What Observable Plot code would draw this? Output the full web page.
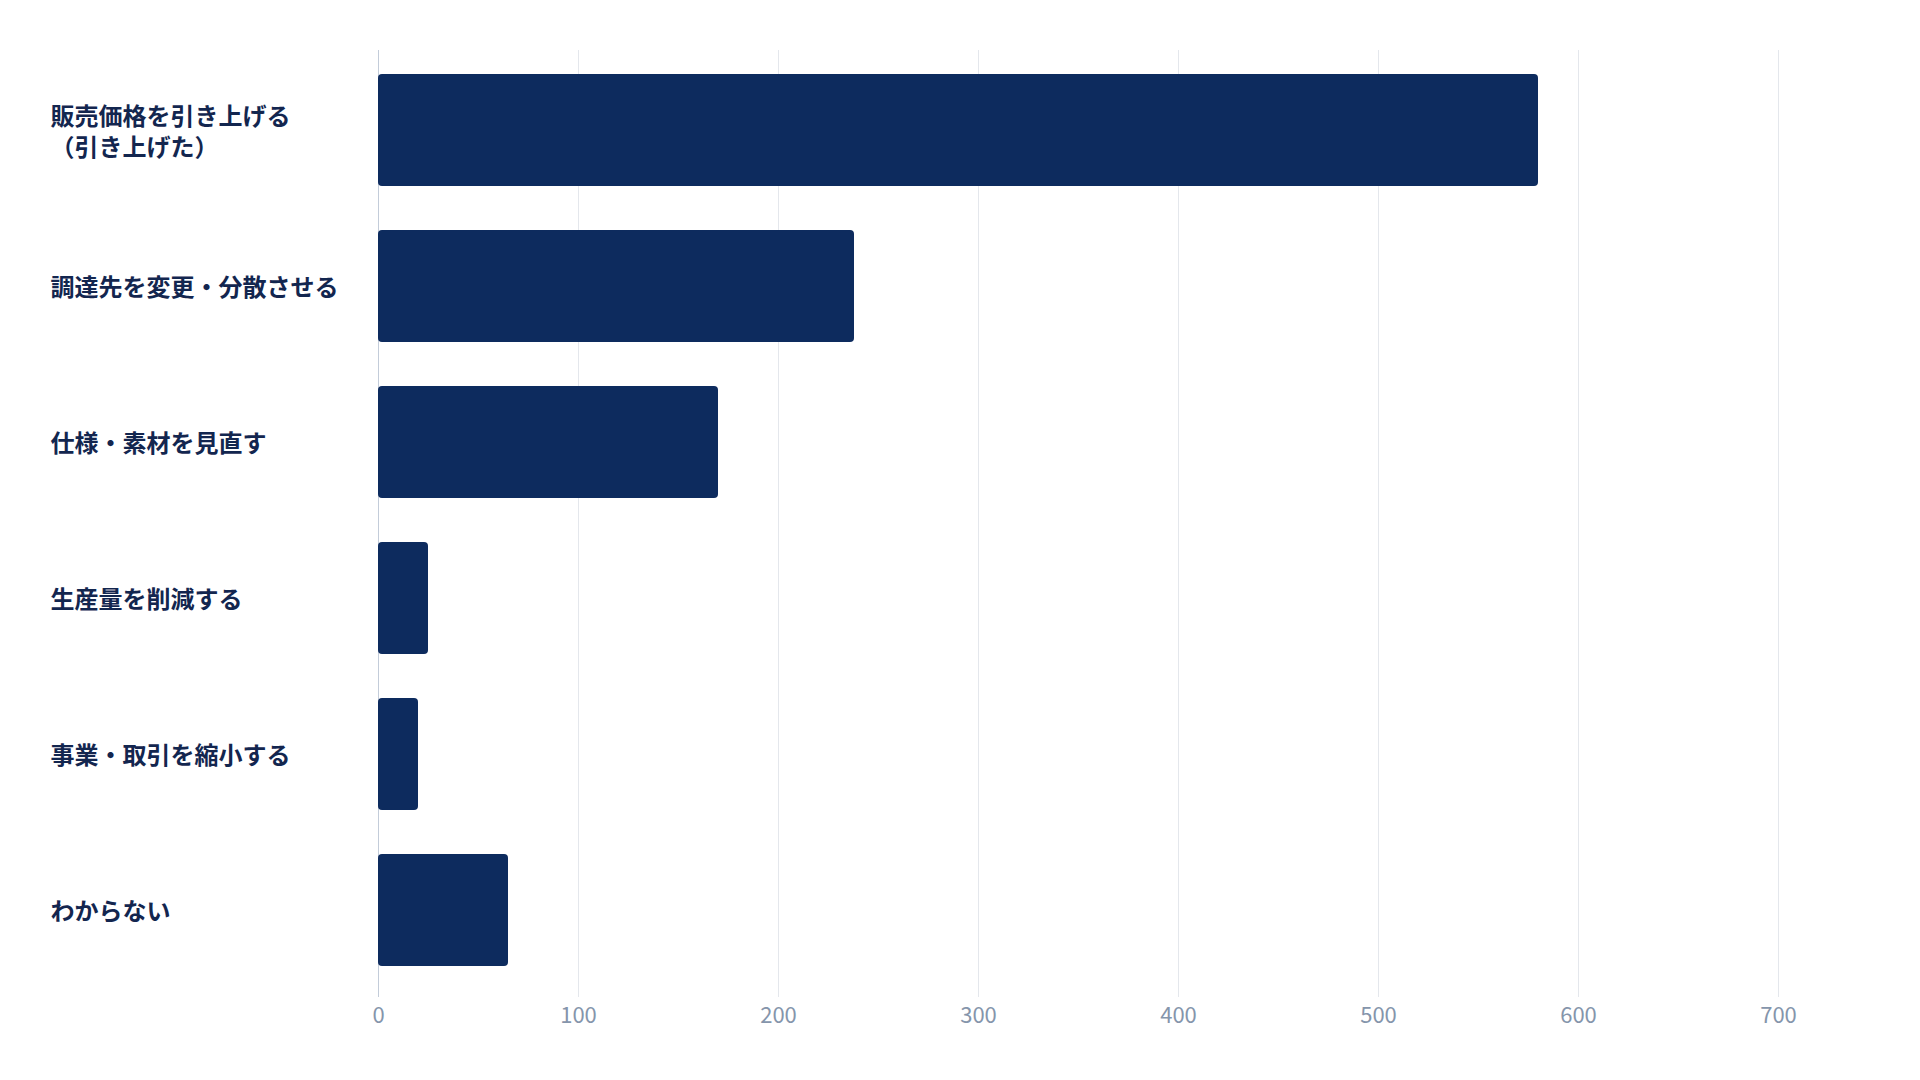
<!DOCTYPE html>
<html>
<head>
<meta charset="utf-8">
<script src="https://cdn.jsdelivr.net/npm/d3@7"></script>
<script src="https://cdn.jsdelivr.net/npm/@observablehq/plot@0.6"></script>
<style>
  html, body { margin: 0; padding: 0; background: #ffffff; }
  #chart { width: 1920px; height: 1080px; }
</style>
</head>
<body>
<div id="chart"></div>
<script>
const categories = [
  "販売価格を引き上げる\n（引き上げた）",
  "調達先を変更・分散させる",
  "仕様・素材を見直す",
  "生産量を削減する",
  "事業・取引を縮小する",
  "わからない"
];
const values = [580, 238, 170, 25, 20, 65];
const xTicks = [0, 100, 200, 300, 400, 500, 600, 700];

const data = categories.map((c, i) => ({category: c, value: values[i]}));

const chart = Plot.plot({
  width: 1920,
  height: 1080,
  marginLeft: 378,
  marginRight: 142,
  marginTop: 50,
  marginBottom: 83,
  style: {fontFamily: "'Noto Sans CJK JP', 'Noto Sans', sans-serif", background: "#ffffff"},
  x: {domain: [0, 700], ticks: xTicks},
  y: {domain: categories, range: [46, 993], paddingInner: 0.285, paddingOuter: 0.166},
  marks: [
    Plot.gridX(xTicks, {stroke: "#e4e7ec", strokeOpacity: 1, strokeWidth: 1}),
    Plot.ruleX([0], {stroke: "#c3ccd9", strokeWidth: 1}),
    Plot.barX(data, {x: "value", y: "category", fill: "#0d2b5e", rx: 4}),
    Plot.axisX({
      ticks: xTicks,
      tickSize: 0,
      tickPadding: 10,
      fontSize: 22,
      fill: "#8595ab",
      label: null
    }),
    Plot.axisY({
      tickSize: 0,
      tickPadding: 0,
      textAnchor: "start",
      dx: -328,
      fontSize: 24,
      fontWeight: "bold",
      fill: "#13264f",
      lineHeight: 1.3,
      label: null
    })
  ]
});
document.getElementById("chart").appendChild(chart);
</script>
</body>
</html>
